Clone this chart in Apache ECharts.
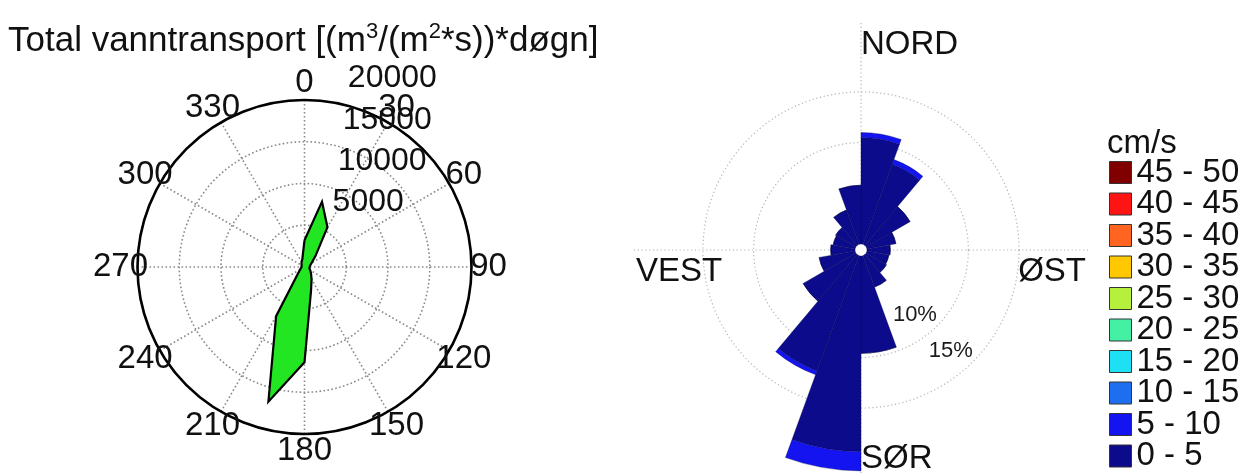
<!DOCTYPE html>
<html>
<head>
<meta charset="utf-8">
<title>Vanntransport og strømrose</title>
<script src="https://cdn.jsdelivr.net/npm/echarts@6/dist/echarts.min.js"></script>
<style>
  html, body { margin: 0; padding: 0; background: #ffffff; }
  #chart { width: 1245px; height: 473px; }
</style>
</head>
<body>
<div id="chart"></div>
<script>
// ---- Left panel: total daily water transport per direction (compass degrees, 15° steps)
const transportDirs = [0, 15, 30, 45, 60, 75, 90, 105, 120, 135, 150, 165,
                       180, 195, 210, 225, 240, 255, 270, 285, 300, 315, 330, 345];
const transportValues = [3200, 8100, 5500, 1850, 1000, 700, 600, 600, 800, 1100, 1700, 3000,
                         11400, 16700, 6800, 1100, 600, 400, 350, 350, 400, 500, 700, 1000];
const compassTicks = [0, 30, 60, 90, 120, 150, 180, 210, 240, 270, 300, 330];
const radialTicks = [5000, 10000, 15000, 20000];

// ---- Right panel: current rose, frequency (%) per 20° sector and speed class
const sectorStarts = [0, 20, 40, 60, 80, 100, 120, 140, 160,
                      180, 200, 220, 240, 260, 280, 300, 320, 340];
const speed0to5 = [10.5, 8.4, 5.0, 2.9, 2.3, 2.2, 2.3, 3.3, 9.6,
                   19.3, 12.1, 6.0, 3.6, 2.4, 2.2, 2.3, 3.6, 5.8];
const speed5to10 = [0.5, 0.5, 0, 0, 0, 0, 0, 0, 0,
                    1.9, 0.4, 0, 0, 0, 0, 0, 0, 0];
const speedClasses = ['0 - 5', '5 - 10', '10 - 15', '15 - 20', '20 - 25',
                      '25 - 30', '30 - 35', '35 - 40', '40 - 45', '45 - 50'];
const ringTicks = [10, 15];
const directionNames = ['NORD', 'ØST', 'SØR', 'VEST'];
const directionAngles = [0, 90, 180, 270];

// ---- Styling and layout
const FONT = '"Liberation Sans", Arial, Helvetica, sans-serif';
const TEXT = '#111111';
const classColors = ['#0b0b8c', '#1414f0', '#1e6ff0', '#1ee0f5', '#44f0a4',
                     '#b4f03c', '#ffc800', '#ff6420', '#ff1414', '#800000'];
const LEFT_CENTER = [304.5, 267];
const LEFT_RADIUS = 167;
const LEFT_MAX = 20000;
const ANGLE_LABEL_R = LEFT_MAX * 184 / LEFT_RADIUS;   // tick labels sit just outside the rim
const RADIAL_LABEL_ANGLE = 7;
const ROSE_CENTER = [861, 250];
const ROSE_HOLE = 6;
const ROSE_OUTER = 227;
const ROSE_MAX = 21.8;
const DIR_LABEL_R = 21.6;
const dirLabelLayout = {
  'NORD': { align: 'left',  verticalAlign: 'top',    offset: [0, 3] },
  'ØST':  { align: 'right', verticalAlign: 'top',    offset: [0, 5] },
  'SØR':  { align: 'left',  verticalAlign: 'bottom', offset: [0, 0] },
  'VEST': { align: 'left',  verticalAlign: 'top',    offset: [0, 5] }
};

const darkDots = { color: '#8a8a8a', width: 1.6, type: [1.6, 2.4] };
const lightDots = { color: '#b4b4b4', width: 1.2, type: [1.2, 2.6] };
const hiddenAxisParts = {
  axisLine: { show: false }, axisTick: { show: false },
  axisLabel: { show: false }, splitLine: { show: false }
};
// invisible anchor points that carry the text labels
const labelAnchor = {
  type: 'scatter', coordinateSystem: 'polar', clip: false, silent: true,
  symbol: 'circle', symbolSize: 0, itemStyle: { opacity: 1, color: '#000' }, z: 5
};

const chart = echarts.init(document.getElementById('chart'), null, { renderer: 'canvas' });

// transport outline, closed back to the first direction
const transportLine = transportDirs.map((a, i) => [transportValues[i], a]);
transportLine.push([transportValues[0], 360]);

const roseBars = speedClasses.map((name, k) => ({
  name: name,
  type: 'bar',
  coordinateSystem: 'polar',
  polarIndex: 1,
  stack: 'speed',
  barCategoryGap: '0%',
  silent: true,
  itemStyle: { color: classColors[k], borderColor: 'rgba(0,0,70,0.55)', borderWidth: 0.6 },
  data: k === 0 ? speed0to5 : (k === 1 ? speed5to10 : []),
  z: 3
}));

const option = {
  animation: false,
  backgroundColor: '#ffffff',
  textStyle: { fontFamily: FONT },
  title: [
    {
      text: '{t|Total vanntransport [(m}{s|3}{t|/(m}{s|2}{t|*s))*døgn]}',
      left: 8, top: 21, padding: 0,
      textStyle: {
        fontWeight: 'normal',
        rich: {
          t: { fontFamily: FONT, fontSize: 35, fontWeight: 'normal', color: TEXT, lineHeight: 40 },
          s: { fontFamily: FONT, fontSize: 22, fontWeight: 'normal', color: TEXT, lineHeight: 26, verticalAlign: 'top' }
        }
      }
    },
    {
      text: 'cm/s',
      left: 1107, top: 127, padding: 0,
      textStyle: { fontFamily: FONT, fontSize: 33, fontWeight: 'normal', color: TEXT }
    }
  ],
  legend: {
    orient: 'vertical',
    left: 1109, top: 156, padding: 0,
    itemWidth: 22, itemHeight: 22, itemGap: -1.5,
    icon: 'rect',
    selectedMode: false,
    data: speedClasses.slice().reverse(),
    itemStyle: { borderColor: '#333333', borderWidth: 1 },
    textStyle: { fontFamily: FONT, fontSize: 33, color: TEXT }
  },
  polar: [
    { center: LEFT_CENTER, radius: [0, LEFT_RADIUS] },
    { center: ROSE_CENTER, radius: [ROSE_HOLE, ROSE_OUTER] },
    { center: ROSE_CENTER, radius: [ROSE_HOLE, ROSE_OUTER] }
  ],
  angleAxis: [
    {
      polarIndex: 0, type: 'value', min: 0, max: 360, interval: 30,
      startAngle: 90, clockwise: true,
      axisLine: { show: true, lineStyle: { color: '#000000', width: 2.6 } },
      axisTick: { show: false }, axisLabel: { show: false },
      splitLine: { show: true, lineStyle: darkDots }
    },
    Object.assign({
      polarIndex: 1, type: 'category', data: sectorStarts,
      startAngle: 90, clockwise: true, boundaryGap: true
    }, hiddenAxisParts),
    {
      polarIndex: 2, type: 'value', min: 0, max: 360, interval: 90,
      startAngle: 90, clockwise: true,
      axisLine: { show: false }, axisTick: { show: false }, axisLabel: { show: false },
      splitLine: { show: true, lineStyle: lightDots }
    }
  ],
  radiusAxis: [
    {
      polarIndex: 0, type: 'value', min: 0, max: LEFT_MAX, interval: 5000,
      axisLine: { show: false }, axisTick: { show: false }, axisLabel: { show: false },
      splitLine: { show: true, lineStyle: darkDots }
    },
    Object.assign({ polarIndex: 1, type: 'value', min: 0, max: ROSE_MAX }, hiddenAxisParts),
    {
      polarIndex: 2, type: 'value', min: 0, max: ROSE_MAX, interval: 5,
      axisLine: { show: false }, axisTick: { show: false }, axisLabel: { show: false },
      splitLine: {
        show: true,
        lineStyle: {
          // only the 10 % and 15 % rings are drawn
          color: ['transparent', 'transparent', '#b4b4b4', '#b4b4b4', 'transparent', 'transparent'],
          width: 1.2, type: [1.2, 2.6]
        }
      }
    }
  ],
  series: [
    {
      name: 'Vanntransport',
      type: 'line',
      coordinateSystem: 'polar',
      polarIndex: 0,
      data: transportLine,
      symbol: 'none',
      silent: true,
      lineStyle: { color: '#000000', width: 2.2, join: 'miter' },
      areaStyle: { color: '#22e622', opacity: 1 },
      z: 3
    },
    Object.assign({}, labelAnchor, {
      polarIndex: 0,
      data: compassTicks.map(a => [ANGLE_LABEL_R, a]),
      label: {
        show: true, position: [0, 0], align: 'center', verticalAlign: 'middle',
        fontFamily: FONT, fontSize: 33, color: TEXT, opacity: 1,
        formatter: p => String(p.value[1])
      }
    }),
    Object.assign({}, labelAnchor, {
      polarIndex: 0,
      data: radialTicks.map(v => [v, RADIAL_LABEL_ANGLE]),
      label: {
        show: true, position: [0, 0], align: 'left', verticalAlign: 'middle',
        offset: [23, -23],
        fontFamily: FONT, fontSize: 32, color: TEXT, opacity: 1,
        formatter: p => String(p.value[0])
      }
    }),
    ...roseBars,
    Object.assign({}, labelAnchor, {
      polarIndex: 2,
      data: ringTicks.map(v => [v, 135]),
      label: {
        show: true, position: [0, 0], align: 'right', verticalAlign: 'bottom',
        fontFamily: FONT, fontSize: 22, color: '#1a1a1a', opacity: 1,
        formatter: p => p.value[0] + '%'
      }
    }),
    Object.assign({}, labelAnchor, {
      polarIndex: 2,
      data: directionNames.map((n, i) => ({
        name: n,
        value: [DIR_LABEL_R, directionAngles[i]],
        label: dirLabelLayout[n]
      })),
      label: {
        show: true, position: [0, 0],
        fontFamily: FONT, fontSize: 33, color: TEXT, opacity: 1,
        formatter: '{b}'
      }
    })
  ]
};

chart.setOption(option);
</script>
</body>
</html>
